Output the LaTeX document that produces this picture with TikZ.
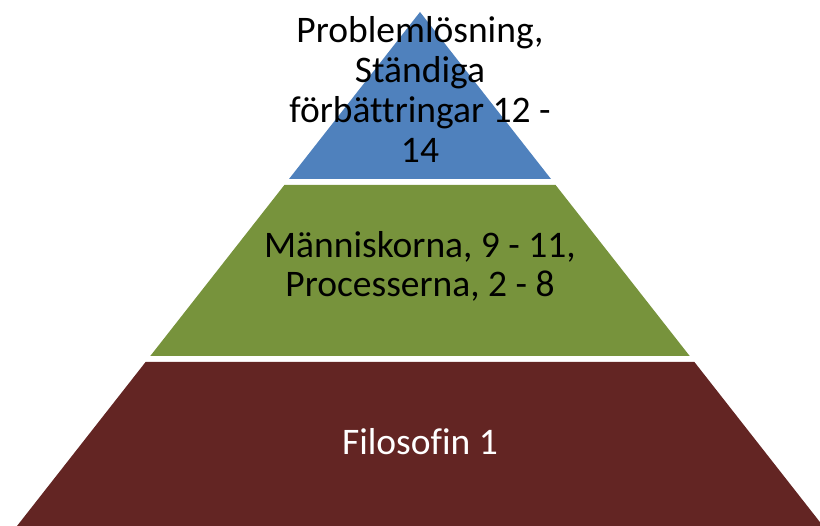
\documentclass[tikz,border=0pt]{standalone}
\usepackage{fontspec}
\setmainfont[Ligatures=NoCommon]{Carlito}
\definecolor{pblue}{HTML}{4F81BD}
\definecolor{pgreen}{HTML}{77933C}
\definecolor{pred}{HTML}{632523}
\begin{document}
\begin{tikzpicture}[x=1pt,y=-1pt,
  lbl/.style={anchor=base,inner sep=0pt,font=\fontsize{37.5}{40}\selectfont}]
\useasboundingbox (0,0) rectangle (820,526);
\begin{scope}
\clip (0,0) rectangle (820,526);
\fill[pblue] (420,12) -- (551,179) -- (289,179) -- cycle;
\fill[pgreen] (284.4,185) -- (555.6,185) -- (689.7,356) -- (150.3,356) -- cycle;
\fill[pred] (145.6,362) -- (694.4,362) -- (823,526) -- (17,526) -- cycle;
\end{scope}
\node[lbl] (b1) at (420,43) {Problemlösning,};
\node[lbl] (b2) at (420,83) {Ständiga};
\node[lbl] (b3) at (420,123) {förbättringar 12 -};
\node[lbl] (b4) at (420,163) {14};
\node[lbl] (g1) at (420,258) {Människorna, 9 - 11,};
\node[lbl] (g2) at (420,297) {Processerna, 2 - 8};
\node[lbl,text=white] (r1) at (420,455) {Filosofin 1};
\end{tikzpicture}
\end{document}
